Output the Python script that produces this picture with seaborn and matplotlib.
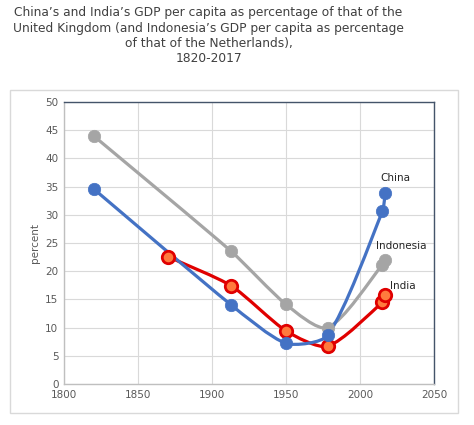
import numpy as np
import pandas as pd
import matplotlib
matplotlib.use("Agg")
import matplotlib.pyplot as plt
from matplotlib.path import Path
from matplotlib.patches import PathPatch, FancyBboxPatch
import seaborn as sns

# data
years_china = [1820, 1913, 1950, 1978, 2015, 2017]
china = [34.6, 14.0, 7.2, 8.6, 30.6, 33.8]
years_indonesia = [1820, 1913, 1950, 1978, 2015, 2017]
indonesia = [44.0, 23.5, 14.1, 10.0, 21.1, 21.9]
years_india = [1870, 1913, 1950, 1978, 2015, 2017]
india = [22.6, 17.4, 9.4, 6.7, 14.5, 15.8]

x_ticks = [1800, 1850, 1900, 1950, 2000, 2050]
y_ticks = [0, 5, 10, 15, 20, 25, 30, 35, 40, 45, 50]

title = ("China\u2019s and India\u2019s GDP per capita as percentage of that of the\n"
         "United Kingdom (and Indonesia\u2019s GDP per capita as percentage\n"
         "of that of the Netherlands),\n"
         "1820-2017")

sns.set_theme(style="whitegrid")
plt.rcParams['font.family'] = ['DejaVu Sans']

BLUE = "#4472c4"
GREY = "#a5a5a5"
RED = "#e00000"
ORANGE = "#ff7a3d"

# rough screen scale (px per unit) so the smoothing looks the same as on screen
SX, SY = 1.48, 5.64


def smooth_path(xs, ys, tension=0.22):
    # smoothed line: tangent from neighbours, handle length tied to the segment
    pts = np.column_stack([np.asarray(xs) * SX, np.asarray(ys) * SY]).astype(float)
    n = len(pts)
    tang = []
    for i in range(n):
        a = pts[max(i - 1, 0)]
        b = pts[min(i + 1, n - 1)]
        d = b - a
        tang.append(d / np.linalg.norm(d))
    verts = [pts[0]]
    codes = [Path.MOVETO]
    for i in range(n - 1):
        seg = np.linalg.norm(pts[i + 1] - pts[i])
        c1 = pts[i] + tang[i] * seg * tension
        c2 = pts[i + 1] - tang[i + 1] * seg * tension
        verts += [c1, c2, pts[i + 1]]
        codes += [Path.CURVE4] * 3
    verts = np.array(verts) / [SX, SY]
    return Path(verts, codes)


fig = plt.figure(figsize=(4.74, 4.25), dpi=100)
ax = fig.add_axes([0.135, 0.0965, 0.781, 0.6635])

# chart-area border
fig.patches.append(FancyBboxPatch((0.021, 0.028), 0.945, 0.76,
                                  boxstyle="square,pad=0", transform=fig.transFigure,
                                  fill=False, ec="#d9d9d9", lw=1.0, zorder=0))

series = [
    (years_indonesia, indonesia, GREY, GREY, GREY),
    (years_india, india, RED, ORANGE, RED),
    (years_china, china, BLUE, BLUE, BLUE),
]
for xs, ys, lc, fc, ec in series:
    ax.add_patch(PathPatch(smooth_path(xs, ys), fill=False, ec=lc, lw=2.3,
                           capstyle="round", joinstyle="round", zorder=2))
    df = pd.DataFrame({"year": xs, "value": ys})
    sns.scatterplot(data=df, x="year", y="value", ax=ax, s=80, color=fc,
                    edgecolor=ec, linewidth=2.0 if fc != ec else 0.5, zorder=3)

ax.text(2024, 36.6, "China", fontsize=7.5, color="#262626", ha="center", va="center")
ax.text(2028, 24.4, "Indonesia", fontsize=7.5, color="#262626", ha="center", va="center")
ax.text(2029, 17.4, "India", fontsize=7.5, color="#262626", ha="center", va="center")

ax.set_xlim(1800, 2050)
ax.set_ylim(0, 50)
ax.set_xticks(x_ticks)
ax.set_yticks(y_ticks)
ax.set_xlabel("")
ax.set_ylabel("percent", fontsize=7.5, color="#595959", labelpad=4)
ax.tick_params(axis="both", labelsize=7.5, labelcolor="#595959", length=0, pad=4)
ax.grid(True, color="#d9d9d9", lw=0.8)
ax.set_facecolor("white")
for side in ["top", "right"]:
    ax.spines[side].set_color("#44546a")
    ax.spines[side].set_linewidth(1.0)
for side in ["left", "bottom"]:
    ax.spines[side].set_color("#bfbfbf")
    ax.spines[side].set_linewidth(1.0)

fig.text(0.44, 0.985, title, ha="center", va="top", fontsize=8.8,
         color="#404040", linespacing=1.22)

fig.savefig("out.png", dpi=100)
